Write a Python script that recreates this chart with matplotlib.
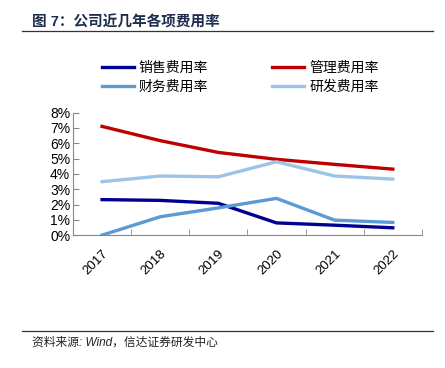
import matplotlib
matplotlib.use("Agg")
import matplotlib.pyplot as plt
from matplotlib.lines import Line2D

plt.rcParams['font.family'] = ['Liberation Sans', 'Noto Sans CJK SC', 'DejaVu Sans']

# 数据
years = ['2017', '2018', '2019', '2020', '2021', '2022']
sales = [2.32, 2.27, 2.08, 0.80, 0.65, 0.48]       # 销售费用率
manage = [7.10, 6.17, 5.40, 4.95, 4.62, 4.31]      # 管理费用率
finance = [0.0, 1.20, 1.78, 2.40, 0.98, 0.83]      # 财务费用率
rnd = [3.49, 3.86, 3.81, 4.79, 3.86, 3.66]         # 研发费用率
yticks = [0, 1, 2, 3, 4, 5, 6, 7, 8]

fig = plt.figure(figsize=(4.45, 3.68), dpi=100)
ax = fig.add_axes([0.164, 0.361, 0.784, 0.333])

x = list(range(len(years)))
l1, = ax.plot(x, sales, color='#000090', lw=2.4, label='销售费用率')
l2, = ax.plot(x, manage, color='#C00000', lw=2.4, label='管理费用率')
l3, = ax.plot(x, finance, color='#5B9BD5', lw=2.4, label='财务费用率')
l4, = ax.plot(x, rnd, color='#9DC3E6', lw=2.4, label='研发费用率')

ax.set_xlim(-0.5, 5.5)
ax.set_ylim(0, 8)
ax.set_yticks(yticks)
ax.set_yticklabels([f'{v}%' for v in yticks], fontsize=10)
ax.set_xticks(x)
ax.set_xticklabels(years, fontsize=9.5, rotation=45, ha='right', rotation_mode='anchor')
ax.set_xticks([i - 0.5 for i in range(len(years) + 1)], minor=True)
ax.tick_params(axis='x', which='major', length=0, pad=9)
ax.tick_params(axis='x', which='minor', direction='in', length=4, color='#888888')
ax.tick_params(axis='y', direction='in', length=4, color='#888888', pad=2)
for s in ['top', 'right']:
    ax.spines[s].set_visible(False)
for s in ['left', 'bottom']:
    ax.spines[s].set_color('#888888')
    ax.spines[s].set_linewidth(0.8)

# 图例按行排列：销售、管理 / 财务、研发
fig.legend(handles=[l1, l3, l2, l4], ncol=2, frameon=False, fontsize=10,
           loc='center', bbox_to_anchor=(0.54, 0.789), handlelength=2.3,
           columnspacing=4.6, labelspacing=0.35, handletextpad=0.35)

# 标题与线
fig.text(0.072, 0.94, '图 7：公司近几年各项费用率', fontsize=10.5, fontweight='bold',
         color='#1F2D4D', va='center', ha='left')
fig.add_artist(Line2D([0.05, 0.973], [0.916, 0.916], color='#333333', lw=0.9))
fig.add_artist(Line2D([0.05, 0.973], [0.101, 0.101], color='#333333', lw=0.9))
fig.text(0.072, 0.068, '资料来源: Wind，信达证券研发中心', fontsize=8.5, style='italic',
         color='#222222', va='center', ha='left')

fig.savefig('out.png', dpi=100)
